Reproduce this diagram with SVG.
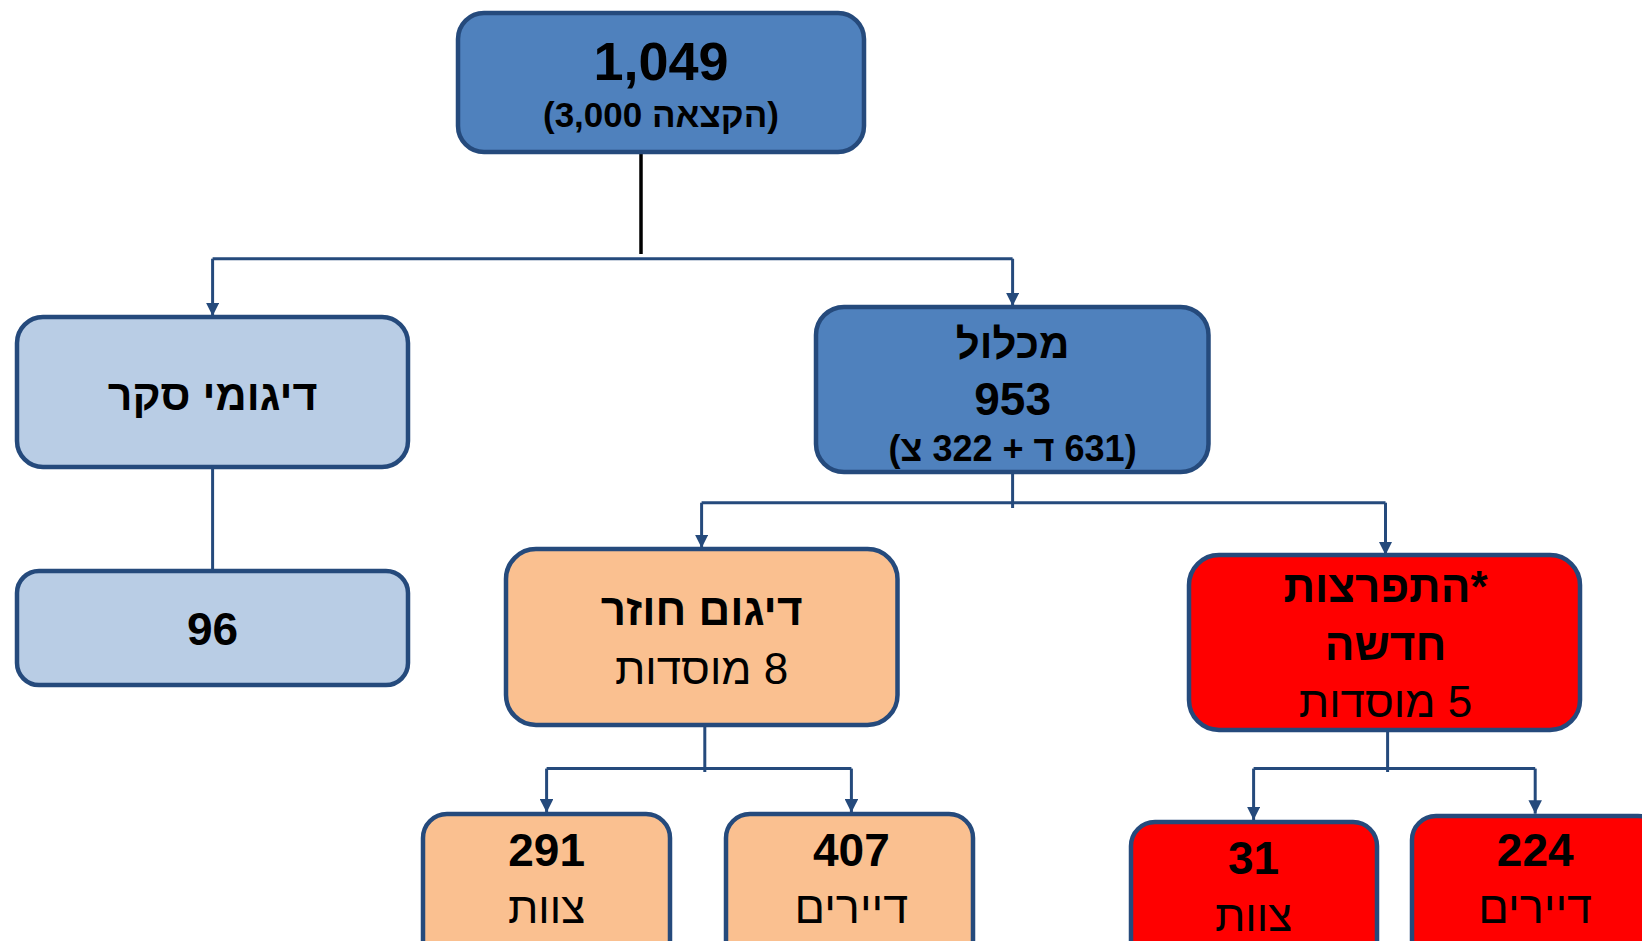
<svg xmlns="http://www.w3.org/2000/svg" width="1642" height="941" viewBox="0 0 1642 941">
<style>
.box{stroke:#254A7C;stroke-width:4.5}
.dark{fill:#4F81BD}
.light{fill:#B9CDE5}
.orange{fill:#FAC090}
.red{fill:#FF0000}
.t{font-family:"Liberation Sans",Arial,"DejaVu Sans",sans-serif;fill:#000;text-anchor:middle}
.b{font-weight:bold}
.con{fill:none;stroke:#254A7C;stroke-width:3}
</style>
<defs>
<marker id="arr" viewBox="0 0 10 10" refX="10" refY="5" markerWidth="4.5" markerHeight="4.5" orient="auto" markerUnits="strokeWidth">
<path d="M0,0 L10,5 L0,10 z" fill="#254A7C"/>
</marker>
</defs>
<rect width="1642" height="941" fill="#fff"/>

<g id="connectors">
<line x1="641" y1="152" x2="641" y2="254" stroke="#000" stroke-width="3.5"/>
<path class="con" d="M212.6,258.7 H1012.6"/>
<path class="con" d="M1012.6,258.7 V306" marker-end="url(#arr)"/>
<path class="con" d="M212.6,258.7 V316" marker-end="url(#arr)"/>
<line class="con" x1="212.6" y1="467" x2="212.6" y2="571"/>
<line class="con" x1="1012.6" y1="472" x2="1012.6" y2="508"/>
<path class="con" d="M701.6,502.7 H1385.5"/>
<path class="con" d="M701.6,502.7 V548" marker-end="url(#arr)"/>
<path class="con" d="M1385.5,502.7 V555" marker-end="url(#arr)"/>
<line class="con" x1="704.8" y1="724.7" x2="704.8" y2="772"/>
<path class="con" d="M546.6,768.6 H851.4"/>
<path class="con" d="M546.6,768.6 V812.6" marker-end="url(#arr)"/>
<path class="con" d="M851.4,768.6 V812.6" marker-end="url(#arr)"/>
<line class="con" x1="1387.6" y1="730" x2="1387.6" y2="772"/>
<path class="con" d="M1253.6,768.6 H1535.2"/>
<path class="con" d="M1253.6,768.6 V820" marker-end="url(#arr)"/>
<path class="con" d="M1535.2,768.6 V813.7" marker-end="url(#arr)"/>
</g>

<g id="total">
<rect class="box dark" x="458" y="13" width="406" height="139" rx="26"/>
<text class="t b" x="661" y="80" font-size="54">1,049</text>
<text class="t b" x="661" y="127" font-size="35" direction="rtl">(הקצאה 3,000)</text>
</g>

<g id="survey">
<rect class="box light" x="17" y="317" width="391" height="150" rx="26"/>
<text class="t b" x="212.6" y="410" font-size="43" direction="rtl">דיגומי סקר</text>
</g>

<g id="survey96">
<rect class="box light" x="17" y="571" width="391" height="114" rx="22"/>
<text class="t b" x="212.6" y="645" font-size="46">96</text>
</g>

<g id="total953">
<rect class="box dark" x="816" y="307" width="392.5" height="165" rx="28"/>
<text class="t b" x="1012.6" y="358" font-size="42" direction="rtl">מכלול</text>
<text class="t b" x="1012.6" y="415" font-size="46">953</text>
<text class="t b" x="1012.6" y="461" font-size="36" direction="rtl">(631 ד + 322 צ)</text>
</g>

<g id="repeat">
<rect class="box orange" x="506" y="549" width="391.5" height="176" rx="30"/>
<text class="t b" x="701.6" y="625" font-size="44" direction="rtl">דיגום חוזר</text>
<text class="t" x="701.6" y="684" font-size="44" direction="rtl">8 מוסדות</text>
</g>

<g id="outbreak">
<rect class="box red" x="1189" y="555" width="391" height="175" rx="30"/>
<text class="t b" x="1385.5" y="602" font-size="44" direction="rtl">*התפרצות</text>
<text class="t b" x="1385.5" y="660" font-size="44" direction="rtl">חדשה</text>
<text class="t" x="1385.5" y="717" font-size="44" direction="rtl">5 מוסדות</text>
</g>

<g id="repeat-staff">
<rect class="box orange" x="423" y="814" width="247" height="150" rx="24"/>
<text class="t b" x="546.6" y="866" font-size="46">291</text>
<text class="t" x="546.6" y="923" font-size="44" direction="rtl">צוות</text>
</g>

<g id="repeat-residents">
<rect class="box orange" x="726" y="814" width="247" height="150" rx="24"/>
<text class="t b" x="851.4" y="866" font-size="46">407</text>
<text class="t" x="851.4" y="923" font-size="45" direction="rtl">דיירים</text>
</g>

<g id="outbreak-staff">
<rect class="box red" x="1131" y="822" width="246" height="150" rx="24"/>
<text class="t b" x="1253.6" y="874" font-size="46">31</text>
<text class="t" x="1253.6" y="931" font-size="44" direction="rtl">צוות</text>
</g>

<g id="outbreak-residents">
<rect class="box red" x="1412" y="816" width="250" height="150" rx="24"/>
<text class="t b" x="1535.2" y="866" font-size="46">224</text>
<text class="t" x="1535.2" y="923" font-size="45" direction="rtl">דיירים</text>
</g>
</svg>
